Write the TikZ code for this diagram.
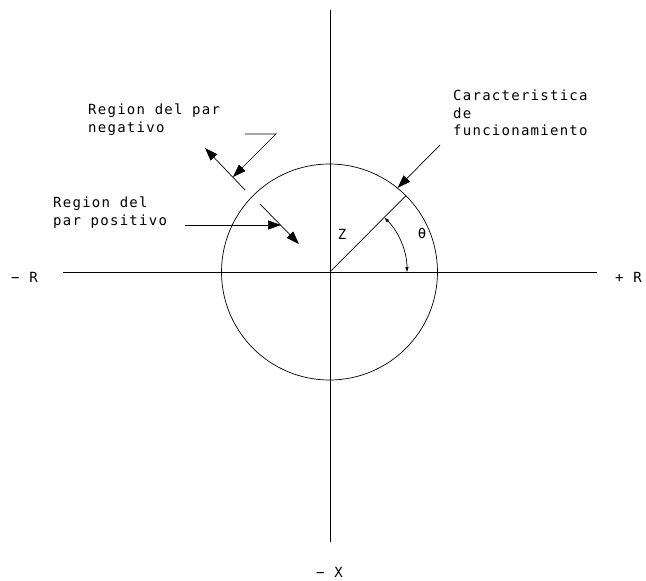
\documentclass[tikz,border=0pt]{standalone}
\usepackage{fontspec}
\usetikzlibrary{arrows.meta}
\newfontfamily\cadfont[LetterSpace=9]{DejaVu Sans Mono}
\newcommand\cadtext{\fontsize{14}{17.5}\selectfont\cadfont}
\tikzset{
  axisline/.style={line width=1pt},
  conn/.style={line width=0.7pt},
  bigarrow/.style={conn,-{Triangle[length=13pt,width=9pt]}},
  smallarrows/.style={conn,{Triangle[length=5pt,width=3pt]}-{Triangle[length=5pt,width=3pt]}},
  lbl/.style={inner sep=0pt, font=\cadtext, align=left},
}
\begin{document}
\begin{tikzpicture}[x=1pt,y=-1pt]
\useasboundingbox (0,0) rectangle (646,581);
% axes
\coordinate (O) at (330,272);
\coordinate (xl) at (63,272);
\coordinate (xr) at (597,272);
\coordinate (yt) at (330,10);
\coordinate (yb) at (330,542);
\draw[axisline] (xl) -- (xr);
\draw[axisline] (yt) -- (yb);
% circle
\node[circle, draw, conn, minimum size=216pt, inner sep=0pt] (circ) at (329.5,272) {};
% axis labels
\node[lbl, anchor=west] (mR) at (11,277) {− R};
\node[lbl, anchor=west] (pR) at (615,277) {+ R};
\node[lbl, anchor=west] (mX) at (316,572) {− X};
% Z line and angle
\draw[conn] (O) -- (circ.45);
\node[lbl] (Z) at (342,234) {Z};
\node[lbl] (th) at (422,233) {θ};
\draw[smallarrows] (O) ++(-45:77) arc[start angle=-45, end angle=0, radius=77];
% characteristic label
\node[lbl, anchor=north west] (car) at (453,90) {Caracteristica\\de\\funcionamiento};
\coordinate (c1) at (440,145);
\draw[bigarrow] (c1) -- (circ.51);
% negative region
\node[lbl, anchor=north west] (neg) at (88,104) {Region del par\\negativo};
\coordinate (n1) at (245,190);
\coordinate (n2) at (205,148);
\draw[bigarrow] (n1) -- (n2);
\coordinate (z1) at (245,134);
\coordinate (z2) at (276,134);
\coordinate (z3) at (233,177);
\draw[bigarrow] (z1) -- (z2) -- (z3);
% positive region
\node[lbl, anchor=north west] (pos) at (53,197) {Region del\\par positivo};
\coordinate (p1) at (185,225);
\coordinate (p2) at (281,225);
\draw[bigarrow] (p1) -- (p2);
\coordinate (q1) at (260,204);
\coordinate (q2) at (299,244);
\draw[bigarrow] (q1) -- (q2);
\end{tikzpicture}
\end{document}
